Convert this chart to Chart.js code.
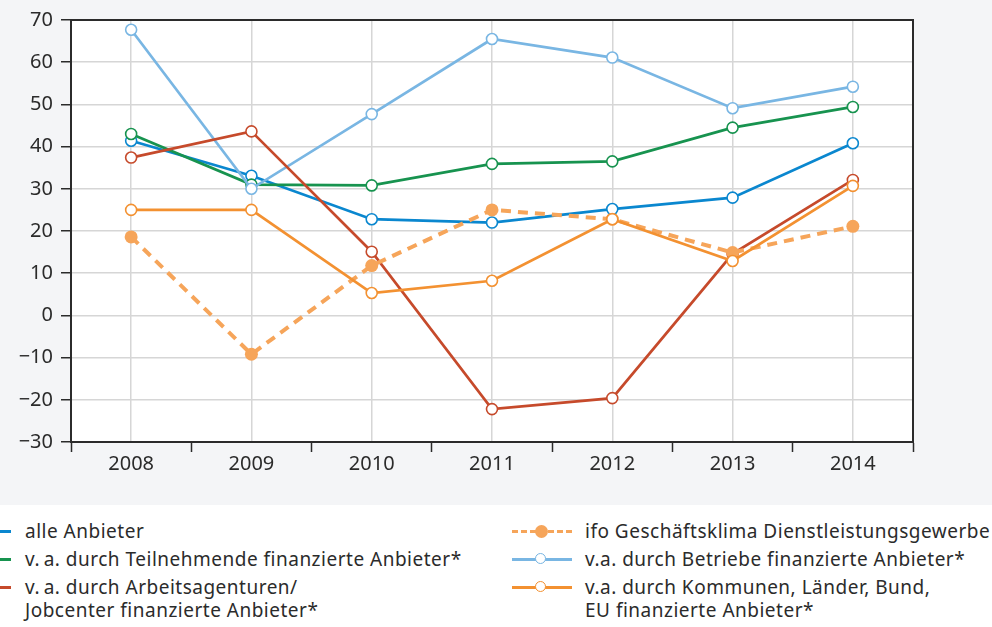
<!DOCTYPE html>
<html>
<head>
<meta charset="utf-8">
<script src="https://cdn.jsdelivr.net/npm/chart.js@4"></script>
<style>
  body { margin: 0; width: 992px; height: 627px; background: #fff; overflow: hidden; font-family: "Noto Sans", sans-serif; color: #2b2b2b; }
  #top { width: 992px; height: 505px; background: #f4f5f7; position: relative; }
  #legend { position: relative; width: 992px; height: 122px; font-size: 19px; letter-spacing: 0.5px; }
  .item { position: absolute; line-height: 23px; white-space: nowrap; }
  .mark { position: absolute; }
</style>
</head>
<body>
<div id="top"><canvas id="lineChart" width="992" height="505"></canvas></div>
<div id="legend"></div>
<script>
// data
const years = ["2008", "2009", "2010", "2011", "2012", "2013", "2014"];
const alleAnbieter = [41.4, 33.1, 22.8, 22.0, 25.2, 27.9, 40.8];
const teilnehmende = [43.0, 31.0, 30.8, 35.9, 36.5, 44.5, 49.4];
const arbeitsagenturen = [37.4, 43.6, 15.1, -22.2, -19.6, 14.6, 32.1];
const ifoKlima = [18.6, -9.2, 11.8, 25.0, 22.8, 14.9, 21.1];
const betriebe = [67.7, 30.0, 47.7, 65.5, 61.1, 49.1, 54.2];
const kommunen = [25.0, 25.0, 5.3, 8.2, 22.8, 12.9, 30.7];

const yMin = -30, yMax = 70, yStep = 10;

const colors = {
    alle: "#0a87cf",
    teil: "#17934f",
    arbeit: "#c64a2b",
    ifo: "#f6a55a",
    betr: "#79b6e3",
    komm: "#f39131"
};

// hollow circle series
function hollow(label, data, color) {
    return {
        label: label,
        data: data,
        borderColor: color,
        borderWidth: 2.7,
        pointRadius: 5.5,
        pointBorderWidth: 1.6,
        pointBackgroundColor: "#fff",
        pointBorderColor: color,
        fill: false,
        tension: 0
    };
}

const datasets = [
    hollow("v.a. durch Kommunen, Länder, Bund, EU finanzierte Anbieter*", kommunen, colors.komm),
    {
        label: "ifo Geschäftsklima Dienstleistungsgewerbe",
        data: ifoKlima,
        borderColor: colors.ifo,
        borderWidth: 4,
        borderDash: [10, 7],
        pointRadius: 6.5,
        pointBorderWidth: 0,
        pointBackgroundColor: colors.ifo,
        fill: false,
        tension: 0
    },
    hollow("v. a. durch Arbeitsagenturen/ Jobcenter finanzierte Anbieter*", arbeitsagenturen, colors.arbeit),
    hollow("v.a. durch Betriebe finanzierte Anbieter*", betriebe, colors.betr),
    hollow("v. a. durch Teilnehmende finanzierte Anbieter*", teilnehmende, colors.teil),
    hollow("alle Anbieter", alleAnbieter, colors.alle)
];

// white plot area + dark frame on top and right
const frame = {
    id: "frame",
    beforeDraw(chart) {
        const a = chart.chartArea, ctx = chart.ctx;
        ctx.save();
        ctx.fillStyle = "#fff";
        ctx.fillRect(a.left, a.top, a.right - a.left, a.bottom - a.top);
        ctx.restore();
    },
    afterDatasetsDraw(chart) {
        const a = chart.chartArea, ctx = chart.ctx;
        ctx.save();
        ctx.strokeStyle = "#2b2b2b";
        ctx.lineWidth = 2;
        ctx.beginPath();
        ctx.moveTo(a.left, a.top);
        ctx.lineTo(a.right, a.top);
        ctx.lineTo(a.right, a.bottom);
        ctx.stroke();
        ctx.restore();
    }
};

const tickFont = { family: "'Noto Sans', sans-serif", size: 20 };

new Chart(document.getElementById("lineChart").getContext("2d"), {
    type: "line",
    data: { labels: years, datasets: datasets },
    options: {
        responsive: false,
        animation: false,
        layout: { padding: { top: 19, right: 79, left: 0, bottom: 0 } },
        plugins: { legend: { display: false }, tooltip: { enabled: false } },
        scales: {
            x: {
                type: "category",
                offset: true,
                grid: { offset: true, drawOnChartArea: false, tickColor: "#2b2b2b", tickLength: 10, tickWidth: 1.5 },
                border: { color: "#2b2b2b", width: 2 },
                ticks: { color: "#2b2b2b", font: tickFont, padding: 0 },
                afterFit(scale) { scale.height = 63; }
            },
            xGrid: {
                type: "category",
                position: "bottom",
                offset: true,
                grid: { offset: false, color: "#d6d6d6", lineWidth: 1.5, drawTicks: false },
                border: { display: false },
                ticks: { display: false },
                afterFit(scale) { scale.height = 0; }
            },
            y: {
                min: yMin,
                max: yMax,
                ticks: {
                    stepSize: yStep,
                    color: "#2b2b2b",
                    font: tickFont,
                    padding: 8,
                    callback: v => String(v).replace("-", "\u2212")
                },
                grid: { color: "#d6d6d6", lineWidth: 1.5, tickColor: "#2b2b2b", tickLength: 10, tickWidth: 1.5 },
                border: { color: "#2b2b2b", width: 2 },
                afterFit(scale) { scale.width = 71; }
            }
        }
    },
    plugins: [frame]
});

// html legend, two columns like the reference
const legendItems = [
    { text: "alle Anbieter", color: colors.alle, x: 25, y: 520, col: "left" },
    { text: "v.\u2009a. durch Teilnehmende finanzierte Anbieter*", color: colors.teil, x: 25, y: 548, col: "left" },
    { text: "v.\u2009a. durch Arbeitsagenturen/<br>Jobcenter finanzierte Anbieter*", color: colors.arbeit, x: 25, y: 576, col: "left" },
    { text: "ifo Geschäftsklima Dienstleistungsgewerbe", color: colors.ifo, x: 585, y: 520, col: "ifo" },
    { text: "v.a. durch Betriebe finanzierte Anbieter*", color: colors.betr, x: 585, y: 548, col: "right" },
    { text: "v.a. durch Kommunen, Länder, Bund,<br>EU finanzierte Anbieter*", color: colors.komm, x: 585, y: 576, col: "right" }
];

const legend = document.getElementById("legend");
legendItems.forEach(item => {
    const div = document.createElement("div");
    div.className = "item";
    div.style.left = item.x + "px";
    div.style.top = (item.y - 505) + "px";
    div.innerHTML = item.text;
    legend.appendChild(div);

    const cy = item.y - 505 + 11;
    if (item.col === "left") {
        const m = document.createElement("div");
        m.className = "mark";
        m.style.cssText = `left:0;top:${cy - 1}px;width:11px;height:2.5px;background:${item.color}`;
        legend.appendChild(m);
    } else {
        const line = document.createElement("div");
        line.className = "mark";
        if (item.col === "ifo") {
            line.style.cssText = `left:512px;top:${cy - 1.5}px;width:60px;height:0;border-top:3.5px dashed ${item.color}`;
        } else {
            line.style.cssText = `left:512px;top:${cy - 1}px;width:60px;height:2.5px;background:${item.color}`;
        }
        legend.appendChild(line);
        const dot = document.createElement("div");
        dot.className = "mark";
        if (item.col === "ifo") {
            dot.style.cssText = `left:535px;top:${cy - 6}px;width:13px;height:13px;border-radius:50%;background:${item.color}`;
        } else {
            dot.style.cssText = `left:535px;top:${cy - 6}px;width:9px;height:9px;border-radius:50%;background:#fff;border:1.6px solid ${item.color}`;
        }
        legend.appendChild(dot);
    }
});
</script>
</body>
</html>
